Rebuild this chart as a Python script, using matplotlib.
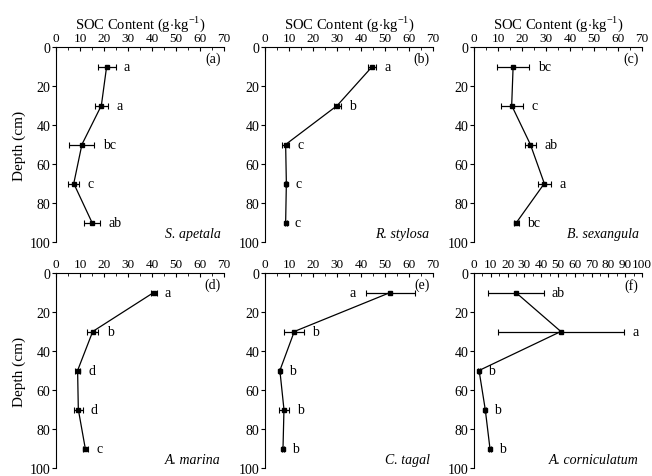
import matplotlib.pyplot as plt
from matplotlib.ticker import MultipleLocator

plt.rcParams['font.family'] = ['Liberation Serif', 'DejaVu Serif']
plt.rcParams['mathtext.fontset'] = 'custom'
plt.rcParams['mathtext.rm'] = 'Liberation Serif'

# depth of each sampled layer (cm)
depth = [10, 30, 50, 70, 90]

species = ['S. apetala', 'R. stylosa', 'B. sexangula',
           'A. marina', 'C. tagal', 'A. corniculatum']
panel_tags = ['(a)', '(b)', '(c)', '(d)', '(e)', '(f)']

# SOC content (g/kg) and error per layer
soc = [
    [21.1, 18.9, 10.8, 7.4, 15.0],
    [44.7, 30.1, 8.6, 8.9, 8.6],
    [16.3, 15.7, 23.5, 29.3, 17.7],
    [40.7, 15.3, 9.0, 9.3, 12.2],
    [52.2, 12.2, 6.2, 7.9, 7.5],
    [24.9, 51.7, 3.0, 6.7, 9.5],
]
err = [
    [3.7, 2.7, 5.2, 2.2, 3.4],
    [1.7, 1.5, 1.5, 0.4, 0.4],
    [6.8, 4.6, 2.3, 2.8, 1.0],
    [1.2, 2.4, 1.2, 1.8, 1.0],
    [10.3, 4.1, 0.4, 1.9, 0.5],
    [16.5, 37.5, 0.6, 0.5, 0.5],
]
letters = [
    ['a', 'a', 'bc', 'c', 'ab'],
    ['a', 'b', 'c', 'c', 'c'],
    ['bc', 'c', 'ab', 'a', 'bc'],
    ['a', 'b', 'd', 'd', 'c'],
    ['a', 'b', 'b', 'b', 'b'],
    ['ab', 'a', 'b', 'b', 'b'],
]
xmax = [70, 70, 70, 70, 70, 100]

fig = plt.figure(figsize=(6.52, 4.77), dpi=100)

lefts = [56, 265, 474]
tops = [48, 274]
W, H = 652.0, 477.0
aw, ah = 168, 195

for i in range(6):
    r, c = divmod(i, 3)
    ax = fig.add_axes([lefts[c] / W, 1 - (tops[r] + ah) / H, aw / W, ah / H])
    ax.errorbar(soc[i], depth, xerr=err[i], color='black', lw=0.9,
                marker='s', ms=2.6, elinewidth=0.9, capsize=2.5, capthick=0.8)
    for j in range(5):
        if i == 4 and j == 0:
            ax.annotate(letters[i][j], (soc[i][j] - err[i][j], depth[j]),
                        xytext=(-7, 0), textcoords='offset points',
                        ha='right', va='center', fontsize=10)
        else:
            ax.annotate(letters[i][j], (soc[i][j] + err[i][j], depth[j]),
                        xytext=(6, 0), textcoords='offset points',
                        ha='left', va='center', fontsize=10)
    ax.set_xlim(0, xmax[i])
    ax.set_ylim(100, 0)
    ax.xaxis.set_ticks_position('top')
    ax.xaxis.set_label_position('top')
    ax.xaxis.set_major_locator(MultipleLocator(10))
    ax.xaxis.set_minor_locator(MultipleLocator(5))
    ax.yaxis.set_major_locator(MultipleLocator(20))
    ax.tick_params(axis='x', which='both', direction='in', labelsize=9.5, pad=2)
    ax.tick_params(axis='x', which='major', length=3, width=0.8)
    ax.tick_params(axis='x', which='minor', length=1.8, width=0.6)
    ax.tick_params(axis='y', direction='out', length=3, width=0.8, labelsize=10, pad=1)
    ax.spines['right'].set_visible(False)
    ax.spines['bottom'].set_visible(False)
    ax.spines['left'].set_linewidth(0.8)
    ax.spines['top'].set_linewidth(0.8)
    if r == 0:
        ax.set_xlabel(r'SOC Content (g$\cdot$kg$^{\mathregular{-1}}$)', fontsize=10.5, labelpad=3.5)
    if c == 0:
        ax.set_ylabel('Depth (cm)', fontsize=11, labelpad=3)
    ax.text(0.98, 0.94, panel_tags[i], transform=ax.transAxes,
            ha='right', va='center', fontsize=10)
    ax.text(0.98, 0.045, species[i], transform=ax.transAxes,
            ha='right', va='center', fontsize=10, style='italic')

fig.savefig('out.png', dpi=100)
